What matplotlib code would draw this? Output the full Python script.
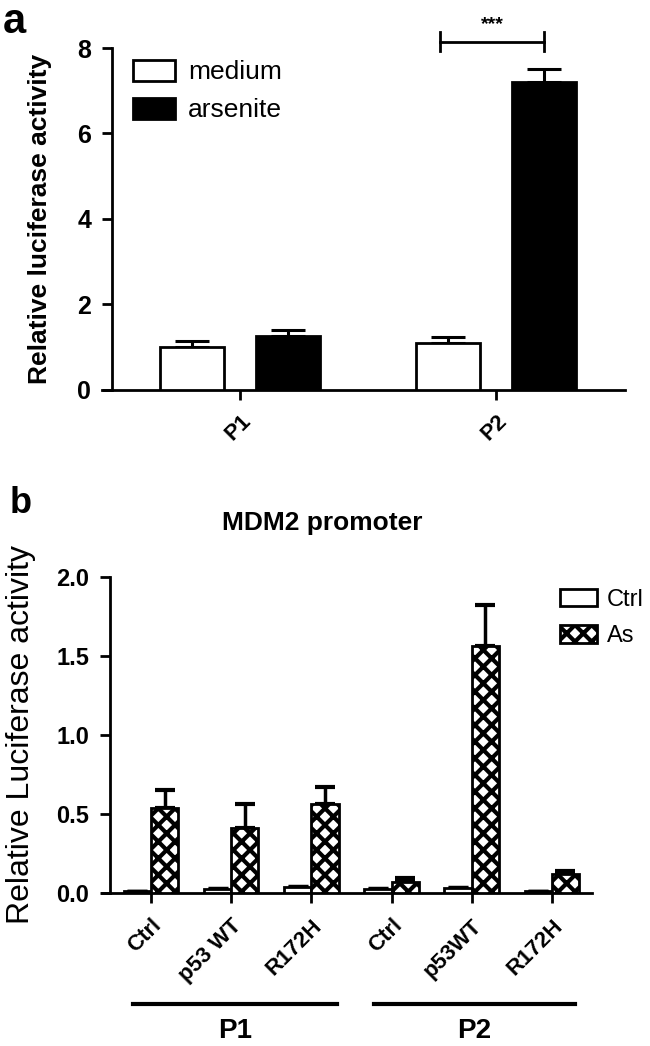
import matplotlib
matplotlib.use("Agg")
import matplotlib.pyplot as plt
import numpy as np

plt.rcParams['font.family'] = ['Liberation Sans', 'DejaVu Sans']
plt.rcParams['hatch.linewidth'] = 3.0

# panel a data
groups_a = ["P1", "P2"]
medium = [1.00, 1.11]
medium_err = [0.15, 0.13]
arsenite = [1.26, 7.20]
arsenite_err = [0.14, 0.30]

# panel b data
labels_b = ["Ctrl", "p53 WT", "R172H", "Ctrl", "p53WT", "R172H"]
ctrl_b = [0.01, 0.025, 0.035, 0.025, 0.03, 0.01]
ctrl_b_err = [0.005, 0.005, 0.008, 0.005, 0.005, 0.005]
as_b = [0.54, 0.41, 0.56, 0.07, 1.56, 0.12]
as_b_err = [0.11, 0.15, 0.11, 0.025, 0.26, 0.02]
promoters = ["P1", "P2"]

fig = plt.figure(figsize=(6.5, 10.46), dpi=100)

# ---------------- panel a ----------------
ax1 = fig.add_axes([0.1569, 0.6272, 0.8046, 0.3269])
# spine position first (it resets the ticks)
ax1.spines["top"].set_visible(False)
ax1.spines["right"].set_visible(False)
ax1.spines["left"].set_position(("data", -0.5))
ax1.spines["left"].set_linewidth(2)
ax1.spines["bottom"].set_linewidth(2)

x = np.arange(len(groups_a))
w = 0.25
off = 0.187
ax1.bar(x - off, medium, w, color="white", edgecolor="black", linewidth=2, label="medium", zorder=3)
ax1.bar(x + off, arsenite, w, color="black", edgecolor="black", linewidth=2, label="arsenite", zorder=3)
ax1.errorbar(x - off, medium, yerr=[np.zeros(2), medium_err], fmt="none", ecolor="black",
             elinewidth=2.2, capsize=12, capthick=2.2, zorder=2)
ax1.errorbar(x + off, arsenite, yerr=[np.zeros(2), arsenite_err], fmt="none", ecolor="black",
             elinewidth=2.2, capsize=12, capthick=2.2, zorder=2)

ax1.set_xlim(-0.539, 1.504)
ax1.set_ylim(0, 8)
ax1.tick_params(axis="y", labelsize=18, width=2, length=7, pad=8)
ax1.tick_params(axis="x", labelsize=16, width=2, length=7, pad=8)
ax1.set_yticks([0, 2, 4, 6, 8], ["0", "2", "4", "6", "8"], fontweight="bold")
ax1.set_xticks(x, groups_a, rotation=45, ha="right", rotation_mode="anchor", fontweight="bold")
ax1.set_ylabel("Relative luciferase activity", fontsize=19, fontweight="bold")
ax1.yaxis.set_label_coords(-0.095, 0.5)

# significance bracket
bx0, bx1, by = x[1] - off - 0.03, x[1] + off, 8.15
ax1.plot([bx0, bx1], [by, by], color="black", lw=2, clip_on=False)
ax1.plot([bx0, bx0], [by - 0.23, by + 0.23], color="black", lw=2, clip_on=False)
ax1.plot([bx1, bx1], [by - 0.23, by + 0.23], color="black", lw=2, clip_on=False)
ax1.text((bx0 + bx1) / 2, by + 0.2, "***", ha="center", va="bottom", fontsize=14, fontweight="bold")

leg1 = ax1.legend(loc="upper left", bbox_to_anchor=(0.188, 0.953), bbox_transform=fig.transFigure,
                  frameon=False, fontsize=19, handlelength=1.6, handleheight=0.85,
                  handletextpad=0.5, labelspacing=0.5, borderaxespad=0)

fig.text(0.005, 0.998, "a", fontsize=30, fontweight="bold", va="top", ha="left")

# ---------------- panel b ----------------
ax2 = fig.add_axes([0.1569, 0.1463, 0.7538, 0.3021])
ax2.spines["top"].set_visible(False)
ax2.spines["right"].set_visible(False)
ax2.spines["left"].set_position(("data", -0.511))
ax2.spines["left"].set_linewidth(2)
ax2.spines["bottom"].set_linewidth(2)

xb = np.arange(len(labels_b))
wb = 0.34
ob = 0.17
ax2.bar(xb - ob, ctrl_b, wb, color="white", edgecolor="black", linewidth=2, label="Ctrl", zorder=3)
ax2.bar(xb + ob, as_b, wb, color="white", edgecolor="black", linewidth=2, hatch="xx", label="As", zorder=3)
ax2.errorbar(xb - ob, ctrl_b, yerr=[np.zeros(6), ctrl_b_err], fmt="none", ecolor="black",
             elinewidth=2, capsize=7, capthick=2.5, zorder=2)
ax2.errorbar(xb + ob, as_b, yerr=[np.zeros(6), as_b_err], fmt="none", ecolor="black",
             elinewidth=2.5, capsize=7, capthick=3, zorder=2)

ax2.set_xlim(-0.611, 5.5)
ax2.set_ylim(0, 2.0)
ax2.tick_params(axis="y", labelsize=17, width=2, length=7, pad=8)
ax2.tick_params(axis="x", labelsize=16, width=2, length=7, pad=9)
ax2.set_yticks([0, 0.5, 1.0, 1.5, 2.0], ["0.0", "0.5", "1.0", "1.5", "2.0"], fontweight="bold")
ax2.set_xticks(xb, labels_b, rotation=45, ha="right", rotation_mode="anchor", fontweight="bold")
ax2.set_ylabel("Relative Luciferase activity", fontsize=23)
ax2.yaxis.set_label_coords(-0.135, 0.5)
ax2.set_title("MDM2 promoter", fontsize=19, fontweight="bold", pad=34, x=0.45)

# promoter group lines
for i, name in enumerate(promoters):
    x0 = 3 * i - 0.22
    x1 = 3 * i + 2.32 - (0.03 if i else 0)
    ax2.plot([x0, x1], [-0.7, -0.7], color="black", lw=3, clip_on=False)
    ax2.text((x0 + x1) / 2, -0.79, name, ha="center", va="top", fontsize=20, fontweight="bold")

leg2 = ax2.legend(loc="upper left", bbox_to_anchor=(0.847, 0.446), bbox_transform=fig.transFigure,
                  frameon=False, fontsize=17, handlelength=1.55, handleheight=0.75,
                  handletextpad=0.45, labelspacing=0.6, borderaxespad=0)

fig.text(0.015, 0.535, "b", fontsize=26, fontweight="bold", va="top", ha="left")

fig.savefig("out.png", dpi=100)
